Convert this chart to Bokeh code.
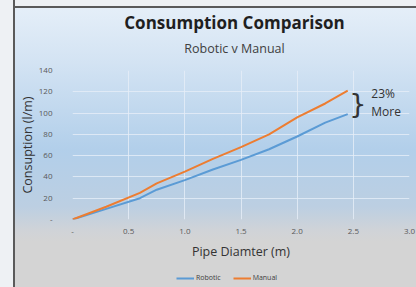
from bokeh.plotting import figure
from bokeh.layouts import column
from bokeh.models import FixedTicker, Label, Legend, LegendItem
from bokeh.embed import file_html
from bokeh.resources import INLINE

diameter = [0, 0.3, 0.6, 0.75, 1.0, 1.25, 1.5, 1.75, 2.0, 2.25, 2.45]
robotic = [0, 10, 20, 28, 37, 47, 56, 66, 78, 91, 99]
manual = [0, 12, 25, 34, 45, 57, 68, 80, 96, 109, 121]
x_ticks = [0, 0.5, 1.0, 1.5, 2.0, 2.5, 3.0]
y_ticks = [0, 20, 40, 60, 80, 100, 120, 140]

FONT = "Open Sans"
W = 416
FRAME_L, FRAME_R = 72, 409  # frames of column children are aligned


def blank(height):
    f = figure(width=W, height=height, output_backend="svg", toolbar_location=None,
               x_range=(FRAME_L, FRAME_R), y_range=(0, height),
               x_axis_location=None, y_axis_location=None,
               min_border=0, min_border_left=FRAME_L, min_border_right=W - FRAME_R,
               min_border_top=0, min_border_bottom=0)
    f.grid.visible = False
    f.background_fill_alpha = 0
    f.border_fill_alpha = 0
    f.outline_line_color = None
    return f


# ---- header with title and subtitle
head = blank(64)
head.add_layout(Label(x=234, y=64 - 22, text="Consumption Comparison", text_align="center",
                      text_baseline="middle", text_font=FONT, text_font_size="17px",
                      text_font_style="bold", text_color="#1f1f1f"))
head.add_layout(Label(x=234, y=64 - 48, text="Robotic v Manual", text_align="center",
                      text_baseline="middle", text_font=FONT, text_font_size="12.5px",
                      text_color="#404040"))

# ---- main chart
p = figure(width=W, height=206, output_backend="svg", toolbar_location=None,
           x_range=(0, 3.0), y_range=(0, 140),
           min_border_left=FRAME_L, min_border_right=W - FRAME_R, min_border_top=6, min_border_bottom=51)
p.background_fill_alpha = 0
p.border_fill_alpha = 0
p.outline_line_color = None

r1 = p.line(diameter, robotic, line_color="#5b9bd5", line_width=2)
r2 = p.line(diameter, manual, line_color="#ed7d31", line_width=2)

for ax in (p.xaxis[0], p.yaxis[0]):
    ax.axis_line_color = None
    ax.major_tick_line_color = None
    ax.minor_tick_line_color = None
    ax.major_label_text_font = FONT
    ax.major_label_text_font_size = "8px"
    ax.major_label_text_color = "#595959"
    ax.axis_label_text_font = FONT
    ax.axis_label_text_font_size = "12.5px"
    ax.axis_label_text_font_style = "normal"
    ax.axis_label_text_color = "#333333"

p.xaxis.ticker = FixedTicker(ticks=x_ticks)
p.yaxis.ticker = FixedTicker(ticks=y_ticks)
p.xaxis.major_label_overrides = {0: "-", 0.5: "0.5", 1.0: "1.0", 1.5: "1.5", 2.0: "2.0", 2.5: "2.5", 3.0: "3.0"}
p.yaxis.major_label_overrides = {0: "-"}
p.xaxis.major_label_standoff = 3
p.yaxis.major_label_standoff = 14
p.xaxis.axis_label = "Pipe Diamter (m)"
p.yaxis.axis_label = "Consuption (l/m)"
p.xaxis.axis_label_standoff = 6
p.yaxis.axis_label_standoff = 0

p.xgrid.grid_line_color = "#e6eef7"
p.ygrid.grid_line_color = "#e6eef7"
p.xgrid.grid_line_alpha = 0.8
p.ygrid.grid_line_alpha = 0.8

p.add_layout(Label(x=2.54, y=109, text="}", text_align="center", text_baseline="middle",
                   text_font="DejaVu Sans", text_font_size="27px", text_color="#333333"))
p.add_layout(Label(x=2.66, y=118.5, text="23%", text_align="left", text_baseline="middle",
                   text_font=FONT, text_font_size="12px", text_color="#333333"))
p.add_layout(Label(x=2.66, y=101.5, text="More", text_align="left", text_baseline="middle",
                   text_font=FONT, text_font_size="12px", text_color="#333333"))

# ---- legend strip
leg = blank(17)
lr1 = leg.line([-20, -10], [-20, -10], line_color="#5b9bd5", line_width=2)
lr2 = leg.line([-20, -10], [-20, -10], line_color="#ed7d31", line_width=2)
legend = Legend(items=[LegendItem(label="Robotic", renderers=[lr1]),
                       LegendItem(label="Manual", renderers=[lr2])],
                orientation="horizontal", location=(104, 5),
                label_text_font=FONT, label_text_font_size="7px", label_text_color="#404040",
                glyph_width=18, glyph_height=8, spacing=12, label_standoff=2,
                label_height=8, background_fill_alpha=0, border_line_color=None,
                padding=2, margin=0)
leg.add_layout(legend, "center")

page = column(head, p, leg, spacing=0)
page.styles = {
    "background": ("linear-gradient(to right, #eef1f4 13px, #5a5a5a 13px, #5a5a5a 15px, rgba(0,0,0,0) 15px), "
                   "linear-gradient(to bottom, #eef1f4 6px, #5a5a5a 6px, #5a5a5a 8px, rgba(0,0,0,0) 8px), "
                   "linear-gradient(to bottom, #e7f0f9 0%, #d3e3f3 22%, #b2cfea 52%, #bccfe2 72%, #cfd3d8 80%, #d4d4d4 84%, #d4d4d4 100%)"),
}

open("out.html", "w").write(file_html(page, INLINE))
